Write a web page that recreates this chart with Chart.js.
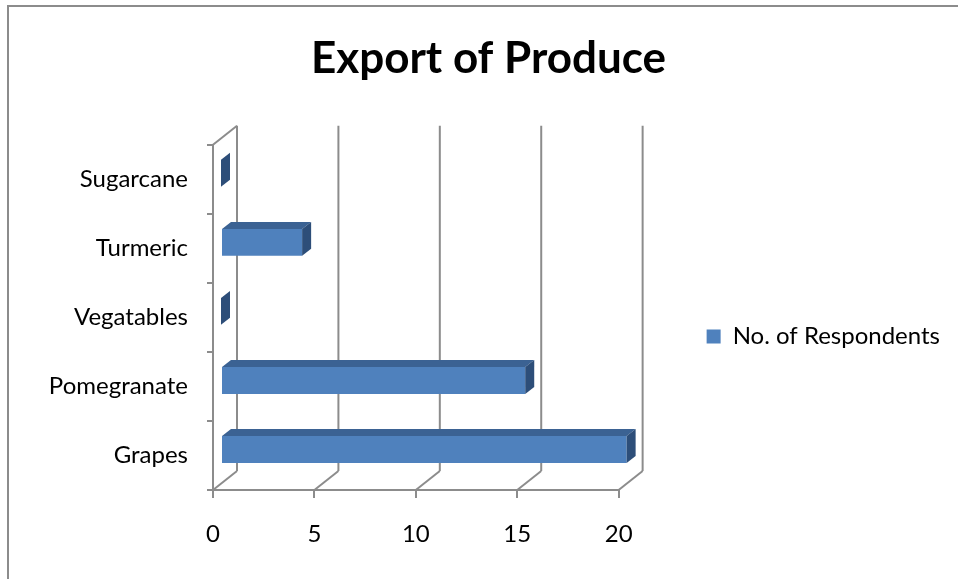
<!DOCTYPE html>
<html>
<head>
<meta charset="utf-8">
<title>Export of Produce</title>
<script src="https://cdn.jsdelivr.net/npm/chart.js@4.4.1/dist/chart.umd.min.js"></script>
<style>
  html, body { margin: 0; padding: 0; background: #fff; overflow: hidden; }
  #wrap { position: relative; width: 958px; height: 579px; }
  #frame {
    position: absolute; left: 7px; top: 5px;
    width: 1200px; height: 800px;
    border: 2px solid #8c8c8c;
  }
  #chart { position: absolute; left: 0; top: 0; }
</style>
</head>
<body>
<div id="wrap">
  <div id="frame"></div>
  <canvas id="chart" width="958" height="579"></canvas>
</div>
<script>
const categories = ["Grapes", "Pomegranate", "Vegatables", "Turmeric", "Sugarcane"];
const respondents = [20, 15, 0, 4, 0];
const xTicks = [0, 5, 10, 15, 20];

const FONT = "Lato, 'Open Sans', sans-serif";
const GRID = "#8c8c8c";

// fake 3D: back wall offset, and where the bars sit inside that depth
const depth = { dx: 24, dy: -19 };
const barFront = { dx: 8, dy: -6 };
const barDepth = { dx: 9, dy: -7 };

function line(ctx, x1, y1, x2, y2) {
  ctx.beginPath();
  ctx.moveTo(x1, y1);
  ctx.lineTo(x2, y2);
  ctx.stroke();
}

function poly(ctx, pts, fill) {
  ctx.beginPath();
  ctx.moveTo(pts[0][0], pts[0][1]);
  for (let i = 1; i < pts.length; i++) ctx.lineTo(pts[i][0], pts[i][1]);
  ctx.closePath();
  ctx.fillStyle = fill;
  ctx.fill();
}

const depthPlugin = {
  id: "depth3d",
  beforeDatasetsDraw(chart) {
    const { ctx, chartArea: a, scales } = chart;
    const x = scales.x;

    ctx.save();
    ctx.strokeStyle = GRID;
    ctx.lineWidth = 2;
    // back wall verticals + floor diagonals
    xTicks.forEach(v => {
      const px = x.getPixelForValue(v);
      line(ctx, px + depth.dx, a.top + depth.dy, px + depth.dx, a.bottom + depth.dy);
      line(ctx, px, a.bottom, px + depth.dx, a.bottom + depth.dy);
    });
    // top edge of the side wall
    line(ctx, a.left, a.top, a.left + depth.dx, a.top + depth.dy);
    ctx.restore();

    // bars are pushed a little into the depth
    ctx.save();
    ctx.translate(barFront.dx, barFront.dy);
  },
  afterDatasetsDraw(chart) {
    const { ctx } = chart;
    chart.getDatasetMeta(0).data.forEach(bar => {
      const { x, y, base, height } = bar.getProps(["x", "y", "base", "height"], true);
      const t = y - height / 2;
      const b = y + height / 2;
      // top face
      poly(ctx, [
        [base, t], [x, t],
        [x + barDepth.dx, t + barDepth.dy], [base + barDepth.dx, t + barDepth.dy]
      ], "#3b6293");
      // end face
      poly(ctx, [
        [x, t], [x + barDepth.dx, t + barDepth.dy],
        [x + barDepth.dx, b + barDepth.dy], [x, b]
      ], "#2d4e79");
    });
    ctx.restore();
  }
};

new Chart(document.getElementById("chart"), {
  type: "bar",
  data: {
    labels: categories,
    datasets: [{
      label: "No. of Respondents",
      data: respondents,
      backgroundColor: "#4f81bd",
      borderWidth: 0,
      barPercentage: 0.39,
      categoryPercentage: 1,
      clip: false,
    }],
  },
  options: {
    indexAxis: "y",
    responsive: false,
    animation: false,
    layout: { padding: { left: 27, right: 8, top: 0, bottom: 0 } },
    plugins: {
      title: {
        display: true,
        text: "Export of Produce",
        color: "#000",
        font: { family: FONT, size: 44, weight: "bold" },
        padding: { top: 32, bottom: 60 },
      },
      legend: {
        position: "right",
        fullSize: false,
        maxWidth: 400,
        // empty title only to nudge the entry down
        title: { display: true, text: "", padding: { top: 37, bottom: 0 }, font: { size: 1 } },
        labels: {
          color: "#000",
          font: { family: FONT, size: 24 },
          boxWidth: 14,
          boxHeight: 14,
          padding: 88,
        },
      },
      tooltip: { enabled: false },
    },
    scales: {
      x: {
        min: 0,
        max: 20,
        afterBuildTicks: s => { s.ticks = xTicks.map(v => ({ value: v })); },
        ticks: { color: "#000", font: { family: FONT, size: 24 }, padding: 22 },
        grid: { drawOnChartArea: false, drawTicks: true, tickLength: 8, color: GRID, lineWidth: 2 },
        border: { display: true, color: GRID, width: 2 },
        afterFit: s => { s.height = 89; },
      },
      y: {
        reverse: true,
        ticks: { color: "#000", font: { family: FONT, size: 24 }, padding: 19 },
        grid: { drawOnChartArea: false, drawTicks: true, tickLength: 6, offset: true, color: GRID, lineWidth: 2 },
        border: { display: true, color: GRID, width: 2 },
        afterFit: s => { s.width = 186; },
      },
    },
  },
  plugins: [depthPlugin],
});
</script>
</body>
</html>
